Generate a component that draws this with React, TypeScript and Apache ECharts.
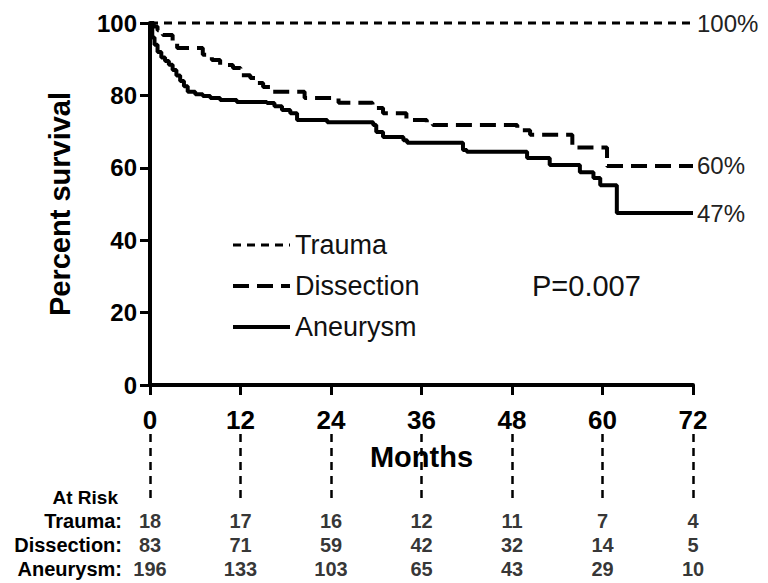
import React, { useEffect, useRef } from 'react';
import * as echarts from 'echarts';

const FONT = '"Liberation Sans", Arial, sans-serif';

const monthTicks = [0, 12, 24, 36, 48, 60, 72];

const seriesNames = ['Trauma', 'Dissection', 'Aneurysm'];
const endLabels = ['100%', '60%', '47%'];

const traumaMonths = [0, 72];
const traumaSurvival = [100, 100];

const dissectionMonths = [0, 0.5, 1, 1.7, 3, 3.6, 7, 8.2, 9.3, 11, 12, 13.3, 14.2, 15, 16.2, 20.5, 25, 29.5, 30.9, 34, 36.7, 37.5, 48.7, 50.4, 56, 60.6, 72];
const dissectionSurvival = [100, 99, 98, 96.7, 94.5, 93.1, 91.2, 89.8, 88.4, 87.6, 85.6, 84.8, 83.4, 82.3, 81, 79.3, 78, 76.5, 75.1, 73.2, 72.4, 71.8, 70.4, 69.1, 65.6, 60.5, 60.5];

const aneurysmMonths = [0, 0.3, 0.6, 1, 1.5, 2, 2.5, 3, 3.5, 4, 4.5, 5, 6, 7, 8, 9.3, 11.5, 15.5, 16.5, 17.5, 18.6, 19.5, 23.5, 29.6, 30, 30.9, 33.6, 34.1, 41.5, 42, 50, 53, 57, 58.8, 59.7, 61.9, 72];
const aneurysmSurvival = [100, 96, 94, 92, 90.5, 89.5, 88.5, 87, 85.5, 84, 82.5, 81, 80.3, 79.8, 79.3, 78.7, 78.2, 77.9, 77, 76, 75.1, 73.2, 72.6, 71.8, 69.9, 68.5, 67.6, 66.9, 64.9, 64.4, 62.7, 60.8, 58.8, 57.2, 55.2, 47.5, 47.5];

const riskRows = ['Trauma:', 'Dissection:', 'Aneurysm:'];
const riskTrauma = [18, 17, 16, 12, 11, 7, 4];
const riskDissection = [83, 71, 59, 42, 32, 14, 5];
const riskAneurysm = [196, 133, 103, 65, 43, 29, 10];

const pValueText = 'P=0.007';
const atRiskTitle = 'At Risk';

export default function App() {
  const ref = useRef<HTMLDivElement>(null);

  useEffect(() => {
    document.body.style.margin = '0';
    if (!ref.current) return;
    const chart = echarts.init(ref.current, null, { renderer: 'svg' });

    const curves = [
      { months: traumaMonths, vals: traumaSurvival, line: { type: [8, 6] as any, width: 3 } },
      { months: dissectionMonths, vals: dissectionSurvival, line: { type: [16, 8] as any, width: 4 } },
      { months: aneurysmMonths, vals: aneurysmSurvival, line: { type: 'solid' as any, width: 4 } },
    ];

    const rowsBottomUp = [...riskRows].reverse();
    const riskData = [riskTrauma, riskDissection, riskAneurysm];

    const option: any = {
      animation: false,
      backgroundColor: '#fff',
      textStyle: { fontFamily: FONT },
      grid: [
        { left: 150, right: 75, top: 23, bottom: 198 },
        { left: 150, right: 75, top: 434, height: 66 },
        { left: 150, right: 75, top: 509, height: 72 },
      ],
      legend: {
        data: seriesNames.map((n, i) => ({
          name: n,
          itemStyle: { opacity: 0 },
          lineStyle: { width: curves[i].line.width, type: curves[i].line.type, color: '#000' },
        })),
        orient: 'vertical',
        left: 226,
        top: 226,
        itemWidth: 57,
        itemHeight: 14,
        itemGap: 13,
        itemStyle: { opacity: 0 },
        textStyle: { fontSize: 27, lineHeight: 28, color: '#111', fontFamily: FONT },
      },
      xAxis: [
        {
          gridIndex: 0, type: 'value', min: 0, max: 72, interval: 12, z: 10,
          axisLine: { lineStyle: { color: '#000', width: 4 } },
          axisTick: { show: true, length: 10, lineStyle: { color: '#000', width: 3 } },
          axisLabel: { fontSize: 26, fontWeight: 'bold', color: '#000', margin: 22, fontFamily: FONT },
          splitLine: { show: false },
          name: 'Months', nameLocation: 'middle', nameGap: 57,
          nameTextStyle: { fontSize: 29, fontWeight: 'bold', color: '#000', fontFamily: FONT },
        },
        {
          gridIndex: 1, type: 'value', min: 0, max: 72, interval: 12,
          axisLine: { show: false }, axisTick: { show: false }, axisLabel: { show: false },
          splitLine: { show: true, lineStyle: { type: [8, 6], width: 2.5, color: '#000' } },
        },
        { gridIndex: 2, type: 'value', min: 0, max: 72, interval: 12, show: false, splitLine: { show: false } },
      ],
      yAxis: [
        {
          gridIndex: 0, type: 'value', min: 0, max: 100, interval: 20,
          axisLine: { show: true, lineStyle: { color: '#000', width: 4 } },
          axisTick: { show: true, length: 10, lineStyle: { color: '#000', width: 3 } },
          axisLabel: { fontSize: 24, fontWeight: 'bold', color: '#000', margin: 13, fontFamily: FONT },
          splitLine: { show: false },
          name: 'Percent survival', nameLocation: 'middle', nameGap: 76,
          nameTextStyle: { fontSize: 29, fontWeight: 'bold', color: '#000', fontFamily: FONT },
        },
        { gridIndex: 1, type: 'value', min: 0, max: 1, show: false, splitLine: { show: false } },
        {
          gridIndex: 2, type: 'category', data: rowsBottomUp,
          axisLine: { show: false }, axisTick: { show: false }, splitLine: { show: false },
          axisLabel: { interval: 0, fontSize: 20, fontWeight: 'bold', color: '#000', margin: 28, fontFamily: FONT },
        },
      ],
      series: [
        ...curves.map((c, i) => ({
          name: seriesNames[i],
          type: 'line',
          xAxisIndex: 0,
          yAxisIndex: 0,
          step: 'end',
          symbol: 'none',
          clip: false,
          data: c.months.map((m, j) => [m, c.vals[j]]),
          lineStyle: { color: '#000', width: c.line.width, type: c.line.type },
          itemStyle: { color: '#000' },
          endLabel: {
            show: true,
            formatter: () => endLabels[i],
            distance: 4,
            fontSize: 24,
            color: '#222',
            fontFamily: FONT,
          },
        })),
        ...riskRows.map((row, i) => ({
          name: 'risk-' + row,
          type: 'scatter',
          xAxisIndex: 2,
          yAxisIndex: 2,
          symbolSize: 1,
          itemStyle: { color: 'rgba(0,0,0,0)' },
          data: riskData[i].map((n, j) => [monthTicks[j], rowsBottomUp.indexOf(row), n]),
          label: {
            show: true,
            position: 'inside',
            formatter: (p: any) => String(p.value[2]),
            fontSize: 20,
            fontWeight: 'bold',
            color: '#000',
            fontFamily: FONT,
          },
        })),
      ],
      graphic: [
        {
          type: 'text', left: 532, top: 271,
          style: { text: pValueText, fontSize: 29, fill: '#111', fontFamily: FONT },
        },
        {
          type: 'text', right: 768 - 118, top: 488,
          style: { text: atRiskTitle, fontSize: 19, fontWeight: 'bold', fill: '#000', fontFamily: FONT },
        },
      ],
    };

    chart.setOption(option);
    return () => chart.dispose();
  }, []);

  return <div ref={ref} style={{ width: 768, height: 583 }} />;
}
